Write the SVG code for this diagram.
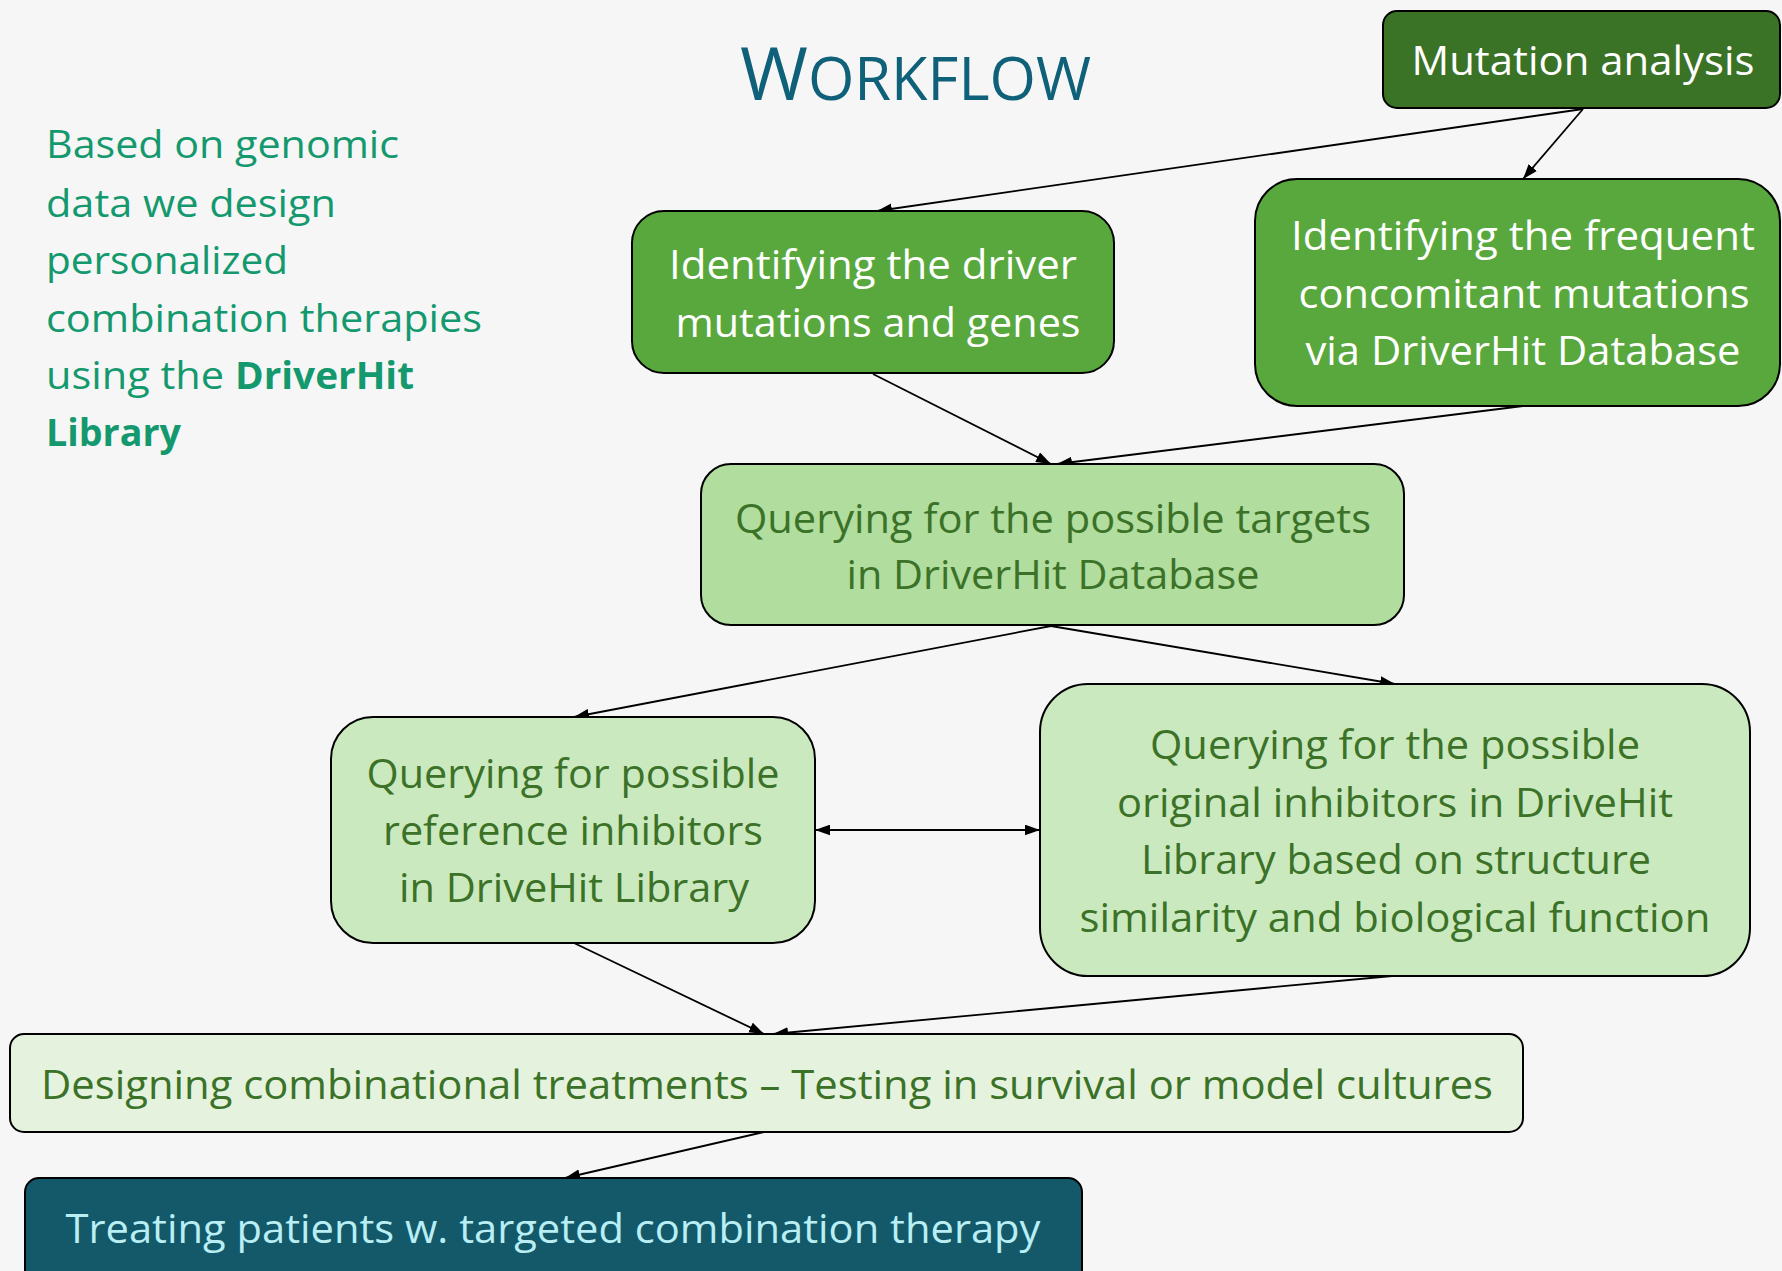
<svg xmlns="http://www.w3.org/2000/svg" width="1782" height="1271" viewBox="0 0 1782 1271">
<defs>
<style>
.box{stroke:#000;stroke-width:2}
.t{font-family:"Open Sans","Noto Sans",sans-serif;font-size:40px;text-anchor:middle}
.w{fill:#ffffff}
.g{fill:#3b7227}
.side{font-family:"Open Sans","Noto Sans",sans-serif;font-size:38px;fill:#14996e}
.conn{stroke:#000;stroke-width:1.8;fill:none}
</style>
<marker id="ah" viewBox="0 0 14 10" refX="14" refY="5" markerWidth="15" markerHeight="11" markerUnits="userSpaceOnUse" orient="auto-start-reverse"><path d="M0,0 L14,5 L0,10 z" fill="#000"/></marker>
</defs>
<rect x="0" y="0" width="1782" height="1271" fill="#f6f6f6"/>

<g id="title">
<text x="740" y="100" font-family="&quot;Open Sans&quot;,&quot;Noto Sans&quot;,sans-serif" fill="#0f6079" textLength="351" lengthAdjust="spacingAndGlyphs"><tspan font-size="74">W</tspan><tspan font-size="60">ORKFLOW</tspan></text>
</g>

<g id="intro">
<text class="side" x="46" y="158" textLength="353" lengthAdjust="spacingAndGlyphs">Based on genomic</text>
<text class="side" x="46" y="217" textLength="290" lengthAdjust="spacingAndGlyphs">data we design</text>
<text class="side" x="46" y="274" textLength="242" lengthAdjust="spacingAndGlyphs">personalized</text>
<text class="side" x="46" y="332" textLength="436" lengthAdjust="spacingAndGlyphs">combination therapies</text>
<text class="side" x="46" y="389"><tspan x="46" textLength="178" lengthAdjust="spacingAndGlyphs">using the</tspan><tspan x="235" font-weight="bold" textLength="179" lengthAdjust="spacingAndGlyphs">DriverHit</tspan></text>
<text class="side" x="46" y="446" font-weight="bold" textLength="135" lengthAdjust="spacingAndGlyphs">Library</text>
</g>

<g id="connectors">
<path class="conn" d="M1583,109 L877,211" marker-end="url(#ah)"/>
<path class="conn" d="M1583,109 L1523,179" marker-end="url(#ah)"/>
<path class="conn" d="M873,374 L1051,464" marker-end="url(#ah)"/>
<path class="conn" d="M1523,406 L1057,464" marker-end="url(#ah)"/>
<path class="conn" d="M1051,626 L574,717" marker-end="url(#ah)"/>
<path class="conn" d="M1051,626 L1395,684" marker-end="url(#ah)"/>
<path class="conn" d="M815,830 L1040,830" marker-start="url(#ah)" marker-end="url(#ah)"/>
<path class="conn" d="M574,943 L764,1034" marker-end="url(#ah)"/>
<path class="conn" d="M1392,976 L773,1034" marker-end="url(#ah)"/>
<path class="conn" d="M764,1132 L565,1178" marker-end="url(#ah)"/>
</g>

<g id="mutation-analysis">
<rect class="box" x="1383" y="11" width="397" height="97" rx="14" fill="#3a7226"/>
<text class="t w" x="1583" y="75" textLength="343" lengthAdjust="spacingAndGlyphs">Mutation analysis</text>
</g>

<g id="driver-mutations">
<rect class="box" x="632" y="211" width="482" height="162" rx="32" fill="#59a83d"/>
<text class="t w" x="873" y="279" textLength="408" lengthAdjust="spacingAndGlyphs">Identifying the driver</text>
<text class="t w" x="878" y="337" textLength="405" lengthAdjust="spacingAndGlyphs">mutations and genes</text>
</g>

<g id="concomitant-mutations">
<rect class="box" x="1255" y="179" width="525" height="227" rx="42" fill="#59a83d"/>
<text class="t w" x="1523" y="250" textLength="464" lengthAdjust="spacingAndGlyphs">Identifying the frequent</text>
<text class="t w" x="1524" y="308" textLength="451" lengthAdjust="spacingAndGlyphs">concomitant mutations</text>
<text class="t w" x="1523" y="365" textLength="435" lengthAdjust="spacingAndGlyphs">via DriverHit Database</text>
</g>

<g id="possible-targets">
<rect class="box" x="701" y="464" width="703" height="161" rx="30" fill="#b1dd9f"/>
<text class="t g" x="1053" y="533" textLength="636" lengthAdjust="spacingAndGlyphs">Querying for the possible targets</text>
<text class="t g" x="1053" y="589" textLength="413" lengthAdjust="spacingAndGlyphs">in DriverHit Database</text>
</g>

<g id="reference-inhibitors">
<rect class="box" x="331" y="717" width="484" height="226" rx="42" fill="#cbe9bf"/>
<text class="t g" x="573" y="788" textLength="413" lengthAdjust="spacingAndGlyphs">Querying for possible</text>
<text class="t g" x="573" y="845" textLength="380" lengthAdjust="spacingAndGlyphs">reference inhibitors</text>
<text class="t g" x="574" y="902" textLength="350" lengthAdjust="spacingAndGlyphs">in DriveHit Library</text>
</g>

<g id="original-inhibitors">
<rect class="box" x="1040" y="684" width="710" height="292" rx="48" fill="#cbe9bf"/>
<text class="t g" x="1395" y="759" textLength="490" lengthAdjust="spacingAndGlyphs">Querying for the possible</text>
<text class="t g" x="1395" y="817" textLength="556" lengthAdjust="spacingAndGlyphs">original inhibitors in DriveHit</text>
<text class="t g" x="1396" y="874" textLength="510" lengthAdjust="spacingAndGlyphs">Library based on structure</text>
<text class="t g" x="1395" y="932" textLength="631" lengthAdjust="spacingAndGlyphs">similarity and biological function</text>
</g>

<g id="designing-treatments">
<rect class="box" x="10" y="1034" width="1513" height="98" rx="14" fill="#e5f3de"/>
<text class="t g" x="767" y="1099" textLength="1452" lengthAdjust="spacingAndGlyphs">Designing combinational treatments – Testing in survival or model cultures</text>
</g>

<g id="treating-patients">
<rect class="box" x="25" y="1178" width="1057" height="130" rx="14" fill="#13596a"/>
<text class="t" x="553" y="1243" fill="#b8eef4" textLength="975" lengthAdjust="spacingAndGlyphs">Treating patients w. targeted combination therapy</text>
</g>
</svg>
